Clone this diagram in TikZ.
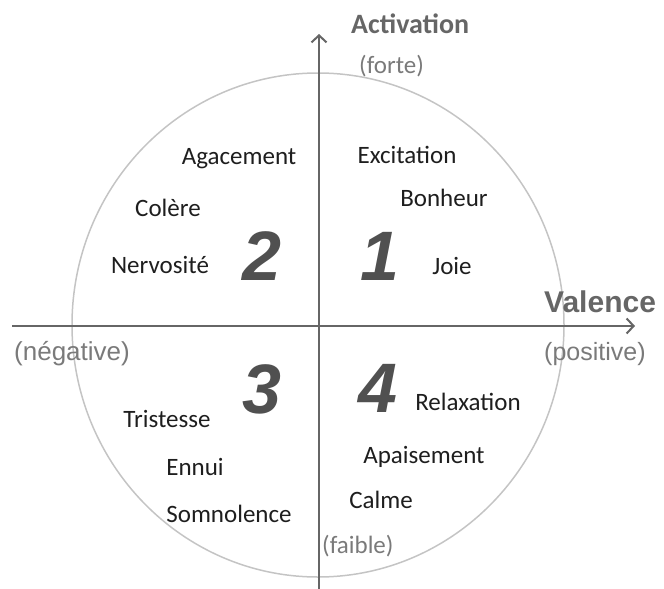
\documentclass[tikz,border=0pt]{standalone}
\usepackage{fontspec}
\setmainfont{Carlito}
\newfontfamily\arialfont{Liberation Sans}
\usetikzlibrary{arrows.meta}

\definecolor{axisgrey}{HTML}{666666}
\definecolor{ringgrey}{HTML}{C4C4C4}
\definecolor{labelgrey}{HTML}{7A7A7A}
\definecolor{numgrey}{HTML}{505050}
\definecolor{wordblack}{HTML}{1E1E1E}

\begin{document}
\begin{tikzpicture}[x=1pt,y=-1pt,>={Straight Barb[length=7pt,width=15pt]}]
            \tikzset{emotion/.style = {anchor=base, inner sep=0pt, text=wordblack, font=\fontsize{25}{30}\selectfont}}
            \tikzset{quadrant/.style = {anchor=base, inner sep=0pt, text=numgrey, font=\arialfont\bfseries\itshape\fontsize{70}{80}\selectfont}}
            \tikzset{pole/.style = {anchor=base, inner sep=0pt, text=labelgrey, font=\fontsize{25}{30}\selectfont}}
            \tikzset{axis/.style = {draw=axisgrey, line width=2pt, ->}}
            \useasboundingbox (0,0) rectangle (664,589);
            % circle
            \draw[ringgrey, line width=1.5pt] (318,325) ellipse [x radius=246, y radius=252];
            % axes
            \coordinate (west) at (12,326);
            \coordinate (east) at (635,326);
            \coordinate (south) at (319,589);
            \coordinate (north) at (319,34);
            \draw[axis] (west) to (east);
            \draw[axis] (south) to (north);
            % axis labels
            \node[pole, anchor=base west, text=axisgrey, font=\bfseries\fontsize{28}{32}\selectfont] (activation) at (351,33) {Activation};
            \node[pole, anchor=base west] (forte) at (359,73) {(forte)};
            \node[pole, anchor=base west] (faible) at (322,553) {(faible)};
            \node[pole, anchor=base west, text=axisgrey, font=\arialfont\bfseries\fontsize{30}{34}\selectfont] (valence) at (544,312) {Valence};
            \node[pole, anchor=base west, font=\arialfont\fontsize{25}{30}\selectfont] (positive) at (544,360) {(positive)};
            \node[pole, anchor=base west, font=\arialfont\fontsize{26}{30}\selectfont] (negative) at (14,360) {(négative)};
            % quadrants
            \node[quadrant] (q1) at (380,280) {1};
            \node[quadrant] (q2) at (262,280) {2};
            \node[quadrant] (q3) at (262,413) {3};
            \node[quadrant] (q4) at (378,412) {4};
            % emotions
            \node[emotion] (excitation) at (407,163) {Excitation};
            \node[emotion] (bonheur) at (444,206) {Bonheur};
            \node[emotion] (joie) at (452,274) {Joie};
            \node[emotion] (agacement) at (239,164) {Agacement};
            \node[emotion] (colere) at (168,216) {Colère};
            \node[emotion] (nervosite) at (160,273) {Nervosité};
            \node[emotion] (tristesse) at (167,427) {Tristesse};
            \node[emotion] (ennui) at (195,475) {Ennui};
            \node[emotion] (somnolence) at (229,522) {Somnolence};
            \node[emotion] (relaxation) at (468,410) {Relaxation};
            \node[emotion] (apaisement) at (424,463) {Apaisement};
            \node[emotion] (calme) at (381,508) {Calme};
        \end{tikzpicture}
\end{document}
